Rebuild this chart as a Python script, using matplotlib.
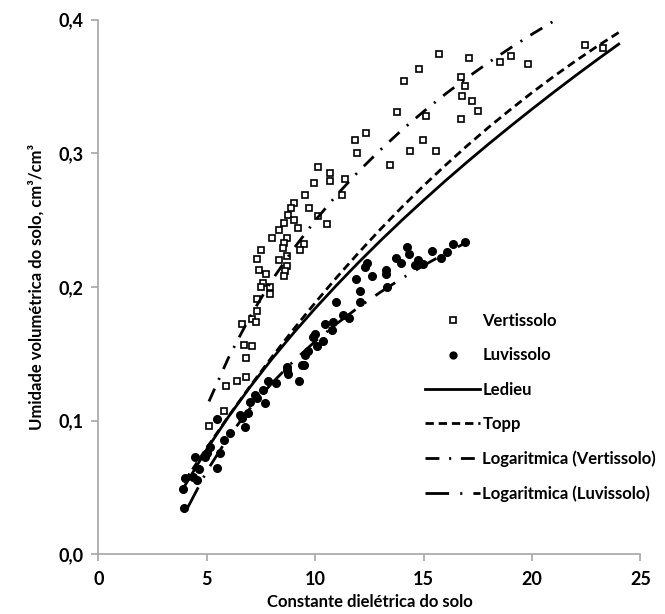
import matplotlib.pyplot as plt

plt.rcParams['font.family'] = ['Lato', 'DejaVu Sans']
plt.rcParams['font.weight'] = 'bold'
plt.rcParams['lines.scale_dashes'] = False

# Vertissolo measured points
vert_x = [10.15, 10.66, 10.66, 9.95, 9.53, 9.04, 9.73, 8.89, 8.74, 10.15,
          10.53, 8.57, 9.04, 9.22, 8.33, 8.00, 8.69, 8.57, 9.46, 9.30,
          8.53, 7.50, 8.72, 7.31, 8.33, 8.72, 8.61, 7.43, 7.74, 8.57,
          7.61, 7.49, 7.92, 7.92, 7.33, 7.31, 7.08, 7.27, 6.61, 6.72,
          7.09, 6.81, 6.81, 6.38, 5.89, 5.81, 5.09, 15.72, 17.11, 14.79,
          14.10, 16.72, 16.90, 16.79, 17.22, 17.50, 13.76, 15.10, 16.72, 12.35,
          11.85, 11.95, 14.99, 14.38, 15.58, 13.47, 11.38, 11.24, 18.53, 19.04,
          19.83, 22.46, 23.27]
vert_y = [0.290, 0.285, 0.279, 0.278, 0.269, 0.263, 0.259, 0.259, 0.254, 0.253,
          0.247, 0.248, 0.250, 0.244, 0.243, 0.237, 0.237, 0.233, 0.232, 0.228,
          0.229, 0.228, 0.223, 0.221, 0.220, 0.216, 0.212, 0.213, 0.210, 0.208,
          0.203, 0.200, 0.200, 0.195, 0.191, 0.182, 0.176, 0.174, 0.172, 0.157,
          0.156, 0.147, 0.133, 0.130, 0.126, 0.107, 0.096, 0.374, 0.371, 0.363,
          0.354, 0.357, 0.350, 0.343, 0.339, 0.332, 0.331, 0.328, 0.326, 0.315,
          0.310, 0.300, 0.310, 0.302, 0.302, 0.291, 0.281, 0.269, 0.368, 0.373,
          0.367, 0.381, 0.379]

# Luvissolo measured points
luv_x = [16.92, 16.35, 16.07, 15.81, 15.41, 14.99, 14.76, 14.61, 14.25, 14.33,
         13.96, 13.72, 13.27, 13.27, 13.30, 12.61, 12.38, 12.30, 11.89, 12.07,
         12.07, 10.96, 11.58, 11.27, 10.84, 10.77, 10.46, 10.00, 10.38, 10.07,
         9.69, 9.53, 9.46, 9.92, 9.38, 9.23, 8.76, 8.69, 8.20, 7.69,
         7.61, 7.23, 7.00, 6.92, 6.54, 7.84, 6.77, 6.61, 6.07, 5.77,
         5.61, 5.46, 5.49, 5.15, 4.92, 4.46, 4.66, 4.38, 4.00, 3.92,
         3.97, 4.54, 5.00, 8.70, 7.30]
luv_y = [0.234, 0.232, 0.226, 0.222, 0.227, 0.217, 0.220, 0.2165, 0.230, 0.225,
         0.218, 0.2215, 0.213, 0.210, 0.200, 0.208, 0.218, 0.215, 0.206, 0.197,
         0.189, 0.189, 0.177, 0.179, 0.174, 0.168, 0.172, 0.165, 0.160, 0.156,
         0.152, 0.149, 0.142, 0.163, 0.142, 0.130, 0.135, 0.140, 0.128, 0.113,
         0.123, 0.119, 0.114, 0.106, 0.104, 0.130, 0.0955, 0.102, 0.0906, 0.0856,
         0.0756, 0.065, 0.101, 0.0805, 0.073, 0.0726, 0.064, 0.058, 0.057, 0.049,
         0.035, 0.0556, 0.0756, 0.138, 0.117]

# model curves
curve_x = [4, 5, 6, 7, 8, 9, 10, 11, 12, 13, 14, 15, 16, 17, 18, 19, 20, 21, 22, 23, 24]
ledieu_y = [0.0518, 0.0787, 0.1030, 0.1253, 0.1461, 0.1656, 0.1841, 0.2016, 0.2184, 0.2345,
            0.2500, 0.2649, 0.2794, 0.2934, 0.3070, 0.3202, 0.3331, 0.3457, 0.3580, 0.3700, 0.3817]
topp_y = [0.0553, 0.0798, 0.1033, 0.1259, 0.1476, 0.1684, 0.1883, 0.2074, 0.2256, 0.2431,
          0.2598, 0.2758, 0.2910, 0.3056, 0.3195, 0.3327, 0.3454, 0.3575, 0.3690, 0.3800, 0.3904]

logv_x = [5.1, 6, 7, 8, 9, 10, 11, 12, 13, 14, 15, 16, 17, 18, 19, 20, 21, 22]
logv_y = [0.1145, 0.1471, 0.1781, 0.2050, 0.2286, 0.2498, 0.2690, 0.2865, 0.3025, 0.3175,
          0.3313, 0.3443, 0.3565, 0.3680, 0.3788, 0.3891, 0.3989, 0.4083]

logl_x = [4.1, 5, 6, 7, 8, 9, 10, 11, 12, 13, 14, 15, 16, 17]
logl_y = [0.0345, 0.0623, 0.0879, 0.1094, 0.1281, 0.1446, 0.1594, 0.1727, 0.1849, 0.1961,
          0.2065, 0.2161, 0.2252, 0.2336]

fig = plt.figure(figsize=(6.65, 6.14), dpi=100)
ax = fig.add_axes([0.148, 0.097, 0.815, 0.871])

ax.plot(vert_x, vert_y, linestyle='none', marker='s', markersize=5,
        markerfacecolor='white', markeredgecolor='black', markeredgewidth=1.2,
        label='Vertissolo', zorder=3)
ax.plot(luv_x, luv_y, linestyle='none', marker='o', markersize=5.5,
        color='black', label='Luvissolo', zorder=3)
ax.plot(curve_x, ledieu_y, color='black', lw=2, label='Ledieu', zorder=4)
ax.plot(curve_x, topp_y, color='black', lw=2, dashes=(6, 3.5), label='Topp', zorder=4)
ax.plot(logv_x, logv_y, color='black', lw=2, dashes=(10, 7, 1.5, 7),
        label='Logaritmica (Vertissolo)', zorder=4)
ax.plot(logl_x, logl_y, color='black', lw=2, dashes=(17, 8, 1.5, 8),
        label='Logaritmica (Luvissolo)', zorder=4)

ax.set_xlim(0, 25)
ax.set_ylim(0, 0.4)
ax.set_xticks([0, 5, 10, 15, 20, 25])
ax.set_yticks([0, 0.1, 0.2, 0.3, 0.4])
ax.set_yticklabels(['0,0', '0,1', '0,2', '0,3', '0,4'])

for s in ['top', 'right']:
    ax.spines[s].set_visible(False)
for s in ['left', 'bottom']:
    ax.spines[s].set_color('#a6a6a6')
    ax.spines[s].set_linewidth(1.2)
ax.tick_params(colors='#a6a6a6', labelcolor='black', labelsize=13,
               length=5, width=1.2, direction='out')
ax.tick_params(axis='x', pad=7)
ax.tick_params(axis='y', pad=6)

ax.set_xlabel('Constante dielétrica do solo', fontsize=12, fontweight='bold', labelpad=4)
ax.set_ylabel('Umidade volumétrica do solo, cm³/cm³', fontsize=12, fontweight='bold', labelpad=10)

fig.legend(loc='upper left', bbox_to_anchor=(425 / 665, 1 - 313 / 614),
           frameon=False, fontsize=12, handlelength=3.3, handletextpad=0.15,
           labelspacing=1.1, borderpad=0, borderaxespad=0, markerscale=0.9)

fig.savefig('out.png', dpi=100)
